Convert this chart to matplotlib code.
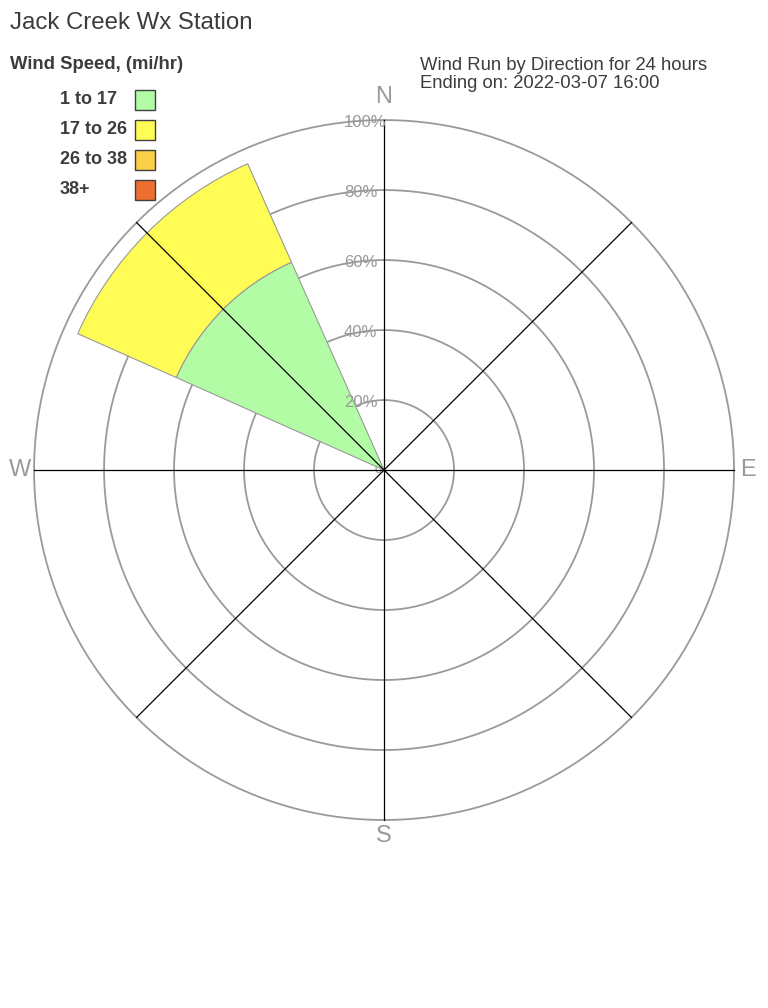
import numpy as np
import matplotlib.pyplot as plt

plt.rcParams['font.family'] = ['Liberation Sans', 'DejaVu Sans']

# wind speed classes and their colours
speed_bins = ["1 to 17", "17 to 26", "26 to 38", "38+"]
bin_colors = ["#b3fca6", "#fffd55", "#f8cf47", "#ee7030"]

# percent of wind run per direction (stacked), only NW had wind
directions = [315]
pct_1_17 = [65.0]
pct_17_26 = [30.8]

ring_values = [20, 40, 60, 80, 100]
ring_labels = ["20%", "40%", "60%", "80%", "100%"]
compass = ["N", "E", "S", "W"]

fig = plt.figure(figsize=(7.68, 10.08), dpi=100)
ax = fig.add_axes([0.0443, 0.1865, 0.9115, 0.6944], projection='polar')
ax.set_theta_zero_location('N')
ax.set_theta_direction(-1)
ax.set_ylim(0, 100)
ax.grid(False)
ax.set_xticks([])
ax.set_yticks([])
ax.spines['polar'].set_visible(False)

# range rings
t = np.linspace(0, 2 * np.pi, 400)
for r in ring_values:
    ax.plot(t, np.full_like(t, r), color='#9a9a9a', lw=1.3, zorder=1,
            clip_on=False)

# stacked wedges
theta = np.deg2rad(directions)
width = np.deg2rad(42)
ax.bar(theta, pct_1_17, width=width, bottom=0, color=bin_colors[0],
       edgecolor='#999999', linewidth=0.8, zorder=2)
ax.bar(theta, pct_17_26, width=width, bottom=pct_1_17, color=bin_colors[1],
       edgecolor='#999999', linewidth=0.8, zorder=2)

# spokes
for a in range(0, 360, 45):
    ax.plot([np.deg2rad(a)] * 2, [0, 100], color='black', lw=0.9, zorder=3,
            clip_on=False)

# ring labels
for r, lab in zip(ring_values, ring_labels):
    ax.annotate(lab, xy=(0, r), xytext=(-40, -2), textcoords='offset pixels',
                ha='left', va='center', fontsize=12, color='#999999', zorder=4)
ax.annotate("0", xy=(0, 0), xytext=(-6, 0), textcoords='offset pixels',
            ha='center', va='center', fontsize=9, color='#999999', zorder=1)

# compass labels
for lab, ang, r in zip(compass, [0, 90, 180, 270], [106.7, 104, 104.5, 104]):
    ax.text(np.deg2rad(ang), r, lab, ha='center', va='center', fontsize=17,
            color='#999999', clip_on=False)

txt = '#3c3c3c'
fig.text(10 / 768, 1 - 29 / 1008, "Jack Creek Wx Station", fontsize=17.3,
         color=txt, va='baseline', ha='left')
fig.text(10 / 768, 1 - 69 / 1008, "Wind Speed, (mi/hr)", fontsize=13.3,
         fontweight='bold', color=txt, va='baseline', ha='left')
fig.text(420 / 768, 1 - 70 / 1008, "Wind Run by Direction for 24 hours",
         fontsize=13.3, color=txt, va='baseline', ha='left')
fig.text(420 / 768, 1 - 88 / 1008, "Ending on: 2022-03-07 16:00",
         fontsize=13.3, color=txt, va='baseline', ha='left')

# legend
for i, (lab, col) in enumerate(zip(speed_bins, bin_colors)):
    yc = 100 + 30 * i
    fig.text(60 / 768, 1 - yc / 1008, lab, fontsize=13, fontweight='bold',
             color=txt, va='center', ha='left')
    fig.patches.append(plt.Rectangle((135 / 768, 1 - (yc + 10) / 1008),
                                     20 / 768, 20 / 1008, facecolor=col,
                                     edgecolor='#404040', lw=1,
                                     transform=fig.transFigure, figure=fig))

fig.savefig("out.png", dpi=100, facecolor='white')
